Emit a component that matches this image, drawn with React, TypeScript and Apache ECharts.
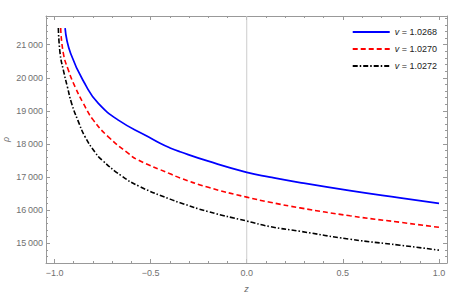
import React, { useEffect, useRef } from "react";
import * as echarts from "echarts";

const seriesNames = ["1.0268", "1.0270", "1.0272"];

const blueZ = [-0.945, -0.916, -0.833, -0.772, -0.668, -0.52, -0.451, -0.399, -0.347, -0.2, 0, 0.121, 0.277, 0.537, 0.797, 1];
const blueRho = [21500, 20734, 19726, 19224, 18720, 18240, 18020, 17880, 17765, 17480, 17144, 17000, 16835, 16590, 16370, 16204];

const redZ = [-0.968, -0.954, -0.928, -0.893, -0.85, -0.798, -0.72, -0.616, -0.564, -0.399, -0.347, -0.2, 0, 0.121, 0.277, 0.537, 0.797, 1];
const redRho = [21500, 20734, 20230, 19726, 19224, 18720, 18216, 17714, 17512, 17100, 16975, 16690, 16394, 16240, 16070, 15830, 15635, 15483];

const blackZ = [-0.98, -0.971, -0.954, -0.933, -0.911, -0.879, -0.841, -0.789, -0.754, -0.65, -0.555, -0.399, -0.347, -0.2, 0, 0.121, 0.277, 0.537, 0.797, 1];
const blackRho = [21500, 20734, 20230, 19726, 19224, 18720, 18216, 17748, 17520, 17031, 16708, 16334, 16225, 15955, 15673, 15505, 15363, 15123, 14943, 14793];

const zeroLineZ = [0, 0];

const xMin = -1.0443;
const xMax = 1.0417;
const yMin = 14405;
const yMax = 21865;

const pairs = (xs: number[], ys: number[]) => xs.map((x, i) => [x, ys[i]]);

const FONT = "Liberation Sans";
const GRAY = "#999";
const LABEL = "#707070";

export default function App() {
  const ref = useRef<HTMLDivElement>(null);
  useEffect(() => {
    document.body.style.margin = "0";
    if (!ref.current) return;
    const chart = echarts.init(ref.current, null, { renderer: "svg" });
    const tickCommon = {
      axisLine: { show: true, onZero: false, lineStyle: { color: GRAY, width: 1 } },
      axisTick: { show: true, inside: true, length: 4, lineStyle: { color: GRAY } },
      minorTick: { show: true, splitNumber: 5, length: 2, lineStyle: { color: GRAY } },
      splitLine: { show: false },
    };
    const xFmt = (v: number) =>
      Math.abs(v * 2 - Math.round(v * 2)) < 1e-6 ? v.toFixed(1).replace("-", "\u2212") : "";
    const yFmt = (v: number) => {
      if (Math.abs(v / 1000 - Math.round(v / 1000)) > 1e-6) return "";
      const k = Math.round(v / 1000);
      return k + "\u2009000";
    };
    const lineSeries = (name: string, data: number[][], color: string, type: any, width: number) => ({
      name,
      type: "line",
      data,
      smooth: 0.5,
      symbol: "none",
      showSymbol: false,
      clip: true,
      z: 3,
      lineStyle: { color, type, width },
      itemStyle: { color },
    });
    chart.setOption({
      animation: false,
      textStyle: { fontFamily: FONT },
      grid: { left: 46, right: 16, top: 16, bottom: 30, containLabel: false, outerBoundsMode: "none" },
      legend: {
        orient: "vertical",
        right: 21,
        top: 21,
        itemWidth: 37,
        itemHeight: 12,
        itemGap: 5,
        data: seriesNames,
        itemStyle: { color: "transparent", opacity: 0, borderWidth: 0 },
        formatter: (name: string) => "{i|v} = " + name,
        textStyle: {
          fontFamily: FONT,
          fontSize: 9,
          color: "#222",
          lineHeight: 12,
          rich: { i: { fontStyle: "italic", fontSize: 9, fontFamily: FONT, color: "#222" } },
        },
      },
      xAxis: [
        {
          type: "value",
          min: xMin,
          max: xMax,
          position: "bottom",
          name: "z",
          nameLocation: "middle",
          nameGap: 21,
          nameMoveOverlap: false,
          nameTextStyle: { color: LABEL, fontSize: 9, fontStyle: "italic", fontFamily: FONT },
          axisLabel: { formatter: xFmt, color: LABEL, fontSize: 9, margin: 5, fontFamily: FONT, showMinLabel: false, showMaxLabel: false },
          ...tickCommon,
        },
        {
          type: "value",
          min: xMin,
          max: xMax,
          position: "top",
          axisLabel: { show: false },
          ...tickCommon,
        },
      ],
      yAxis: [
        {
          type: "value",
          min: yMin,
          max: yMax,
          position: "left",
          name: "\u03c1",
          nameLocation: "middle",
          nameGap: 36,
          nameRotate: 90,
          nameMoveOverlap: false,
          nameTextStyle: { color: LABEL, fontSize: 9, fontStyle: "italic", fontFamily: FONT },
          axisLabel: { formatter: yFmt, color: LABEL, fontSize: 9, margin: 3, fontFamily: FONT, showMinLabel: false, showMaxLabel: false },
          ...tickCommon,
        },
        {
          type: "value",
          min: yMin,
          max: yMax,
          position: "right",
          axisLabel: { show: false },
          ...tickCommon,
        },
      ],
      series: [
        {
          name: "zero",
          type: "line",
          data: [[zeroLineZ[0], yMin], [zeroLineZ[1], yMax]],
          symbol: "none",
          silent: true,
          z: 1,
          lineStyle: { color: "#cccccc", width: 1, type: "solid" },
        },
        lineSeries(seriesNames[0], pairs(blueZ, blueRho), "#0000ff", "solid", 1.7),
        lineSeries(seriesNames[1], pairs(redZ, redRho), "#ff0000", [5, 3], 1.6),
        lineSeries(seriesNames[2], pairs(blackZ, blackRho), "#000000", [5, 2, 1.5, 2], 1.6),
      ],
    });
    return () => chart.dispose();
  }, []);
  return <div ref={ref} style={{ width: 463, height: 293 }} />;
}
